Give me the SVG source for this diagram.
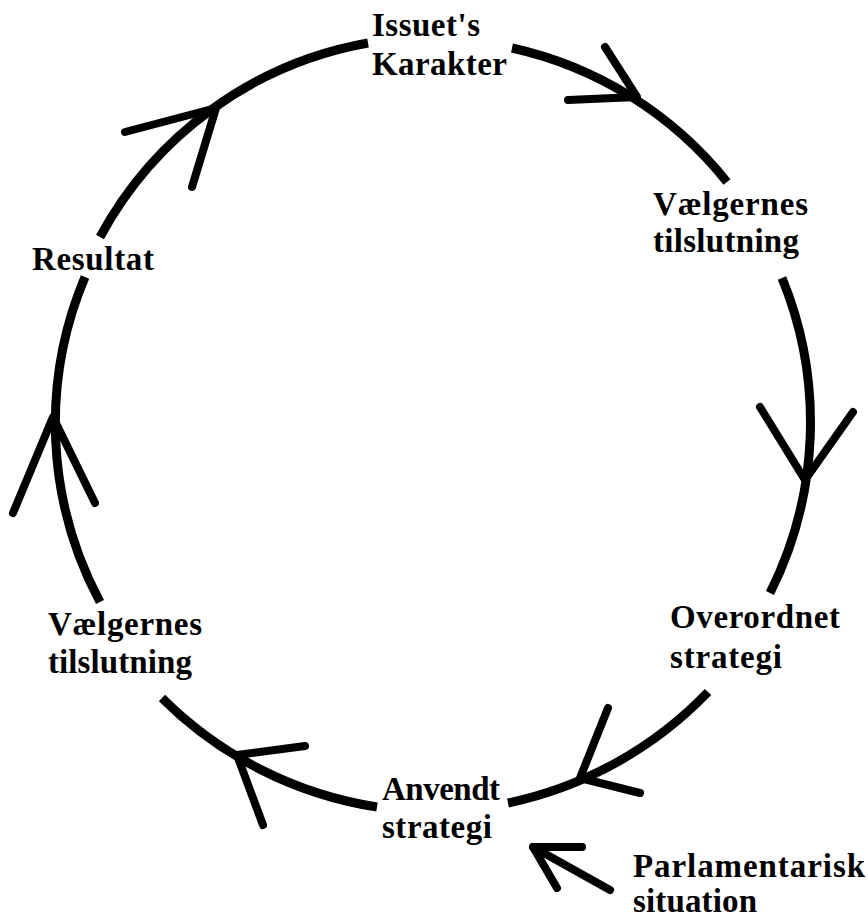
<svg xmlns="http://www.w3.org/2000/svg" width="868" height="920" viewBox="0 0 868 920">
<style>
.lbl{font-family:"Liberation Serif","Times New Roman",serif;font-weight:bold;font-size:33px;fill:#000}
.arc{fill:none;stroke:#000;stroke-width:9;stroke-linecap:butt}
.head{fill:none;stroke:#000;stroke-width:8;stroke-linecap:round;stroke-linejoin:round}
</style>
<rect width="868" height="920" fill="#fff"/>
<g id="connectors">
<path class="arc" d="M 100 237 A 380 380 0 0 1 368 43"/>
<path class="head" d="M 125 132 L 216 108 L 192 187"/>
<path class="arc" d="M 512 48 A 380 380 0 0 1 727 182"/>
<path class="head" d="M 568 100 L 637 97 L 605 47"/>
<path class="arc" d="M 782 278 A 380 380 0 0 1 770 593"/>
<path class="head" d="M 760 407 L 805 480 L 853 412"/>
<path class="arc" d="M 708 692 A 388 388 0 0 1 508 803"/>
<path class="head" d="M 608 708 L 580 778 L 640 793"/>
<path class="arc" d="M 377 807 A 388 388 0 0 1 162 698"/>
<path class="head" d="M 305 746 L 237 755 L 263 825"/>
<path class="arc" d="M 100 602 A 378 378 0 0 1 85 277"/>
<path class="head" d="M 13 513 L 53 417 L 95 503"/>
<path class="head" d="M 610 890 L 533 847"/>
<path class="head" d="M 582 847 L 533 847 L 557 888"/>
</g>
<g id="issuets-karakter"><text class="lbl" x="372" y="36" textLength="108" lengthAdjust="spacing">Issuet's</text><text class="lbl" x="372" y="75" textLength="135" lengthAdjust="spacing">Karakter</text></g>
<g id="vaelgernes-right"><text class="lbl" x="653" y="215" textLength="155" lengthAdjust="spacing">Vælgernes</text><text class="lbl" x="653" y="252" textLength="146" lengthAdjust="spacing">tilslutning</text></g>
<g id="overordnet-strategi"><text class="lbl" x="670" y="628" textLength="170" lengthAdjust="spacing">Overordnet</text><text class="lbl" x="670" y="668" textLength="112" lengthAdjust="spacing">strategi</text></g>
<g id="anvendt-strategi"><text class="lbl" x="382" y="800" textLength="118" lengthAdjust="spacing">Anvendt</text><text class="lbl" x="382" y="838" textLength="110" lengthAdjust="spacing">strategi</text></g>
<g id="parlamentarisk-situation"><text class="lbl" x="633" y="877" textLength="232" lengthAdjust="spacing">Parlamentarisk</text><text class="lbl" x="633" y="912" textLength="124" lengthAdjust="spacing">situation</text></g>
<g id="vaelgernes-left"><text class="lbl" x="48" y="635" textLength="154" lengthAdjust="spacing">Vælgernes</text><text class="lbl" x="48" y="673" textLength="144" lengthAdjust="spacing">tilslutning</text></g>
<g id="resultat"><text class="lbl" x="32" y="270" textLength="122" lengthAdjust="spacing">Resultat</text></g>
</svg>
